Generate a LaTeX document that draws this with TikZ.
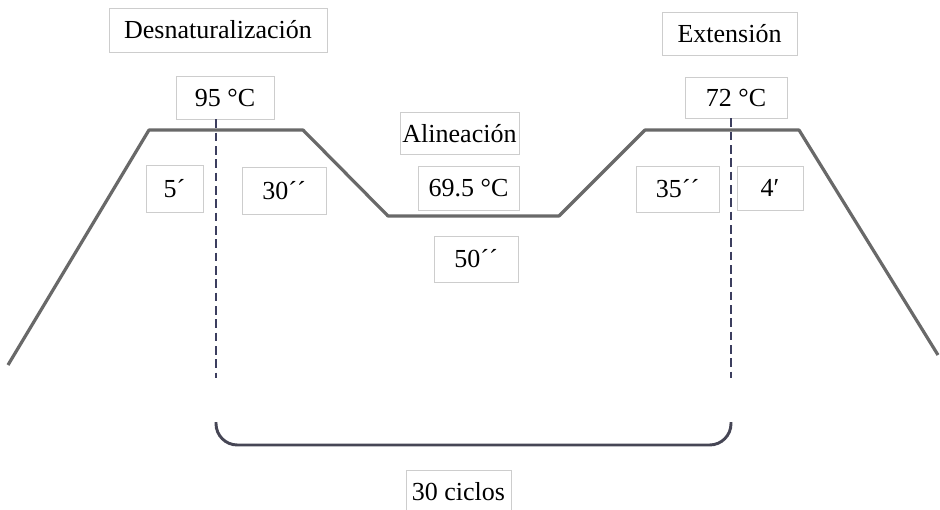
\documentclass[tikz,border=0pt]{standalone}
\usepackage{fontspec}
\setmainfont{Liberation Serif}
\definecolor{boxline}{RGB}{205,205,205}
\definecolor{trap}{RGB}{105,105,105}
\definecolor{dashc}{RGB}{60,62,95}
\definecolor{bracec}{RGB}{70,70,85}
\begin{document}
\begin{tikzpicture}[x=0.75pt,y=-0.75pt,
  lbl/.style 2 args={draw=boxline, line width=0.6pt, fill=white, inner sep=0pt,
    minimum width=#1*0.75pt, minimum height=#2*0.75pt,
    font=\fontsize{19.5}{22}\selectfont},
  profile/.style={draw=trap, line width=2.4pt, line join=round},
  cycleline/.style={draw=dashc, line width=1.9pt, dash pattern=on 6.5pt off 3.5pt},
  bracket/.style={draw=bracec, line width=2.2pt, rounded corners=16pt}]
\useasboundingbox (0,0) rectangle (940,510);
% profile
\coordinate (p0) at (8,365);
\coordinate (p1) at (149,130);
\coordinate (p2) at (303,130);
\coordinate (p3) at (388,216);
\coordinate (p4) at (559,216);
\coordinate (p5) at (645,130);
\coordinate (p6) at (799,130);
\coordinate (p7) at (938,355);
\draw[profile] (p0) -- (p1) -- (p2) -- (p3) -- (p4) -- (p5) -- (p6) -- (p7);
% labels
\node[lbl={218}{44}] (desn) at (218,30) {Desnaturalización};
\node[lbl={98}{43}] (t95) at (225,97.5) {95 °C};
\node[lbl={135}{43}] (ext) at (729.5,33.5) {Extensión};
\node[lbl={102}{41}] (t72) at (736,97.5) {72 °C};
\node[lbl={119}{42}] (alin) at (459.5,133.5) {Alineación};
\node[lbl={101}{44}] (t695) at (468.5,188) {69.5 °C};
\node[lbl={84}{46}] (s50) at (476,259) {50´´};
\node[lbl={57}{47}] (m5) at (174.5,188.5) {5´};
\node[lbl={84}{47}] (s30) at (284,190.5) {30´´};
\node[lbl={83}{46}] (s35) at (677.5,189) {35´´};
\node[lbl={66}{44}] (m4) at (770,188) {4′};
\node[lbl={105}{44}] (cic) at (458.5,492) {30 ciclos};
% cycle markers
\coordinate (d1) at (216,378);
\coordinate (d2) at (731,378);
\draw[cycleline] (t95.south -| d1) -- (d1);
\draw[cycleline] (t72.south -| d2) -- (d2);
% bracket
\coordinate (b1) at (216,422);
\coordinate (b2) at (731,422);
\draw[bracket] (b1) -- (216,445) -- (731,445) -- (b2);
\end{tikzpicture}
\end{document}
